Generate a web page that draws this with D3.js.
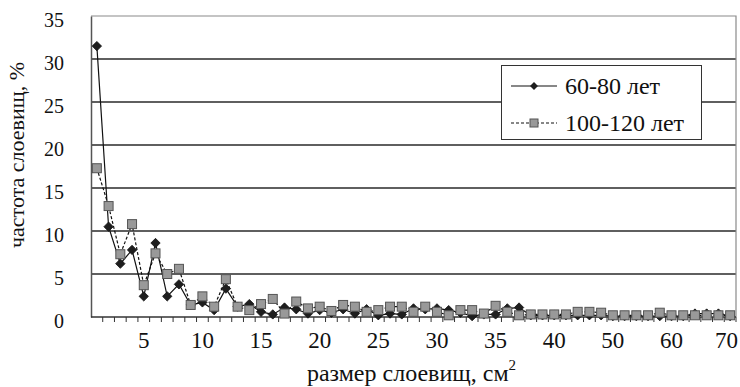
<!DOCTYPE html>
<html>
<head>
<meta charset="utf-8">
<script src="https://cdn.jsdelivr.net/npm/d3@7"></script>
<style>
  html, body { margin: 0; padding: 0; background: #fff; }
  svg { display: block; }
</style>
</head>
<body>
<svg id="chart" width="740" height="387"></svg>
<script>
// Size classes of thalli (cm²)
const categories = [1, 2, 3, 4, 5, 6, 7, 8, 9, 10,
  11, 12, 13, 14, 15, 16, 17, 18, 19, 20,
  21, 22, 23, 24, 25, 26, 27, 28, 29, 30,
  31, 32, 33, 34, 35, 36, 37, 38, 39, 40,
  42, 44, 46, 48, 50, 52, 54, 56, 58, 60,
  62, 64, 66, 68, 70];

// Frequency of thalli, %, stand age 60-80 years
const age60_80 = [31.5, 10.5, 6.2, 7.8, 2.4, 8.6, 2.4, 3.8, 1.4, 1.7,
  0.8, 3.3, 1.2, 1.5, 0.6, 0.3, 1.1, 0.9, 0.4, 0.8,
  0.5, 0.9, 0.4, 0.9, 0.2, 0.4, 0.3, 1.0, 0.9, 1.0,
  0.8, 0.5, 0.1, 0.3, 0.3, 1.0, 1.1, 0.2, 0.2, 0.2,
  0.2, 0.2, 0.2, 0.2, 0.1, 0.1, 0.1, 0.1, 0.1, 0.1,
  0.1, 0.4, 0.4, 0.4, 0.1];

// Frequency of thalli, %, stand age 100-120 years
const age100_120 = [17.3, 12.9, 7.3, 10.8, 3.7, 7.4, 5.0, 5.6, 1.4, 2.4,
  1.2, 4.4, 1.2, 0.8, 1.5, 2.1, 0.4, 1.8, 1.0, 1.2,
  0.7, 1.4, 1.2, 0.6, 0.8, 1.2, 1.2, 0.6, 1.2, 0.6,
  0.2, 0.8, 0.8, 0.4, 1.3, 0.6, 0.2, 0.3, 0.3, 0.3,
  0.3, 0.6, 0.6, 0.5, 0.2, 0.2, 0.2, 0.2, 0.5, 0.2,
  0.2, 0.2, 0.2, 0.2, 0.2];

const tickLabels = [5, 10, 15, 20, 25, 30, 35, 40, 50, 60, 70];
const yTicks = [0, 5, 10, 15, 20, 25, 30, 35];
const seriesNames = ["60-80 лет", "100-120 лет"];

const FONT = "'Liberation Serif', 'DejaVu Serif', 'Times New Roman', serif";
const svg = d3.select("#chart").attr("font-family", FONT);
const margin = { left: 91, right: 4, top: 16, bottom: 70 };
const W = 740, H = 387;
const plotW = W - margin.left - margin.right;
const plotH = H - margin.top - margin.bottom;

const x = d3.scaleBand().domain(categories).range([margin.left, margin.left + plotW]).padding(0);
const y = d3.scaleLinear().domain([0, 35]).range([margin.top + plotH, margin.top]);
const cx = d => x(d) + x.bandwidth() / 2;

// horizontal gridlines
svg.append("g").selectAll("line").data(yTicks.filter(v => v > 0 && v < 35)).join("line")
  .attr("x1", margin.left).attr("x2", margin.left + plotW)
  .attr("y1", d => y(d)).attr("y2", d => y(d))
  .attr("stroke", "#2a2a2a").attr("stroke-width", 1.3);

// plot frame (top and right edges)
svg.append("path")
  .attr("d", `M${margin.left},${y(35)}H${margin.left + plotW}V${y(0)}`)
  .attr("fill", "none").attr("stroke", "#8a8a8a").attr("stroke-width", 1.2);

// y axis
const yAxis = svg.append("g").attr("transform", `translate(${margin.left},0)`)
  .call(d3.axisLeft(y).tickValues(yTicks).tickSize(0).tickPadding(27))
  .attr("font-family", FONT);
yAxis.select(".domain").attr("stroke", "#555").attr("stroke-width", 1.5);
yAxis.selectAll("text").attr("font-size", 20).attr("fill", "#111")
  .attr("dy", "0.5em");

// x axis: tick marks between categories, labels every fifth category
const xAxisG = svg.append("g").attr("transform", `translate(0,${y(0)})`);
xAxisG.append("line").attr("x1", margin.left).attr("x2", margin.left + plotW)
  .attr("stroke", "#333").attr("stroke-width", 1.5);
xAxisG.selectAll("line.tick").data(categories).join("line").attr("class", "tick")
  .attr("x1", d => x(d) + x.bandwidth()).attr("x2", d => x(d) + x.bandwidth())
  .attr("y1", 0).attr("y2", 5).attr("stroke", "#333").attr("stroke-width", 1);
xAxisG.selectAll("text").data(tickLabels).join("text")
  .attr("x", d => cx(d)).attr("y", 31)
  .attr("text-anchor", "middle").attr("font-size", 23).attr("fill", "#111")
  .text(d => d)
  .each(function () {
    // keep the last label inside the canvas
    const bb = this.getBBox();
    const over = bb.x + bb.width - (W - 2);
    if (over > 0) d3.select(this).attr("x", +d3.select(this).attr("x") - over);
  });

// axis titles
const xt = svg.append("text").attr("x", margin.left + plotW / 2 - 2).attr("y", 381)
  .attr("text-anchor", "middle").attr("font-size", 24).attr("fill", "#111");
xt.append("tspan").text("размер слоевищ, см");
xt.append("tspan").attr("font-size", 15).attr("dy", -11).text("2");

svg.append("text").attr("transform", `translate(24,155) rotate(-90)`)
  .attr("text-anchor", "middle").attr("font-size", 22).attr("fill", "#111")
  .text("частота слоевищ, %");

// series lines
const lineA = d3.line().x((d, i) => cx(categories[i])).y(d => y(d));
svg.append("path").datum(age60_80).attr("d", lineA)
  .attr("fill", "none").attr("stroke", "#111").attr("stroke-width", 1.2);
svg.append("path").datum(age100_120).attr("d", lineA)
  .attr("fill", "none").attr("stroke", "#111").attr("stroke-width", 1.2)
  .attr("stroke-dasharray", "3,2");

// markers
const diamond = d3.symbol().type(d3.symbolDiamond2).size(56);
svg.append("g").selectAll("path").data(age60_80).join("path")
  .attr("d", diamond)
  .attr("transform", (d, i) => `translate(${cx(categories[i])},${y(d)})`)
  .attr("fill", "#1e1e1e").attr("stroke", "#111").attr("stroke-width", 0.8);

svg.append("g").selectAll("rect").data(age100_120).join("rect")
  .attr("x", (d, i) => cx(categories[i]) - 4.5).attr("y", d => y(d) - 4.5)
  .attr("width", 9).attr("height", 9)
  .attr("fill", "#999").attr("stroke", "#555").attr("stroke-width", 1);

// legend
const lg = svg.append("g");
lg.append("rect").attr("x", 501.5).attr("y", 65.5).attr("width", 200).attr("height", 74)
  .attr("fill", "#fff").attr("stroke", "#333").attr("stroke-width", 1);
const rows = [86, 123];
seriesNames.forEach((name, i) => {
  const yy = rows[i];
  lg.append("line").attr("x1", 511).attr("x2", 557).attr("y1", yy).attr("y2", yy)
    .attr("stroke", "#111").attr("stroke-width", 1.2)
    .attr("stroke-dasharray", i === 1 ? "3,2" : null);
  if (i === 0) {
    lg.append("path").attr("d", d3.symbol().type(d3.symbolDiamond2).size(40))
      .attr("transform", `translate(534,${yy})`).attr("fill", "#1e1e1e");
  } else {
    lg.append("rect").attr("x", 530).attr("y", yy - 4).attr("width", 8).attr("height", 8)
      .attr("fill", "#999").attr("stroke", "#555");
  }
  lg.append("text").attr("x", 565).attr("y", yy + 8).attr("font-size", 24)
    .attr("fill", "#111").text(name);
});
</script>
</body>
</html>
